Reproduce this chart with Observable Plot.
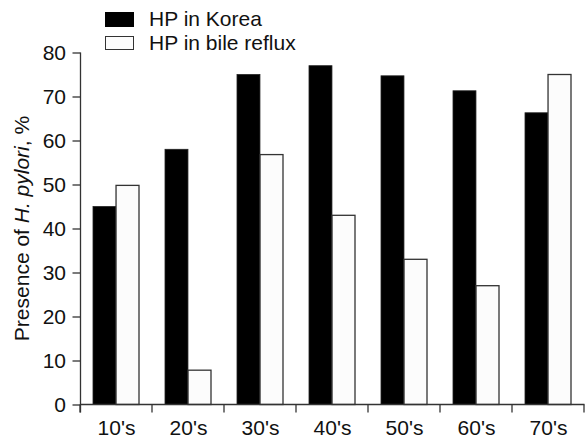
<!DOCTYPE html>
<html>
<head>
<meta charset="utf-8">
<script src="https://cdn.jsdelivr.net/npm/d3@7"></script>
<script src="https://cdn.jsdelivr.net/npm/@observablehq/plot@0.6"></script>
<style>
  html, body { margin: 0; padding: 0; background: #fff; }
  #wrap { position: relative; width: 586px; height: 439px; font-family: "Liberation Sans", Arial, Helvetica, sans-serif; color: #111; }
  .lg-box { position: absolute; box-sizing: border-box; }
  .lg-text { position: absolute; font-size: 21px; line-height: 24px; white-space: nowrap; }
</style>
</head>
<body>
<div id="wrap">
  <div class="lg-box" style="left:105px; top:12px; width:29px; height:15px; background:#000;"></div>
  <div class="lg-text" id="lg1" style="left:149px; top:7px;"></div>
  <div class="lg-box" style="left:105px; top:36px; width:29px; height:14px; background:#fcfcfc; border:1.3px solid #333;"></div>
  <div class="lg-text" id="lg2" style="left:149px; top:31px;"></div>
</div>
<script>
// ---- data ----
const ages = ["10's", "20's", "30's", "40's", "50's", "60's", "70's"];
const hpKorea = [45, 58, 75, 77, 74.7, 71.3, 66.3];
const hpBile = [49.8, 7.8, 56.8, 43, 33, 27, 75];
const yTicks = [0, 10, 20, 30, 40, 50, 60, 70, 80];
const seriesNames = ["HP in Korea", "HP in bile reflux"];
const yLabelParts = ["Presence of ", "H. pylori", ", %"];

document.getElementById("lg1").textContent = seriesNames[0];
document.getElementById("lg2").textContent = seriesNames[1];

const rows = ages.map((a, i) => ({age: a, korea: hpKorea[i], bile: hpBile[i]}));

const padInner = 0.36, padOuter = 0.18;
const W = 586, H = 439, mL = 80.5, mR = 1.5, mT = 52.5, mB = 34.5;
const step = (W - mL - mR) / (ages.length - padInner + 2 * padOuter);
const half = step * (1 - padInner) / 2;

const svg = Plot.plot({
  width: W, height: H,
  marginLeft: mL, marginRight: mR, marginTop: mT, marginBottom: mB,
  style: {fontFamily: '"Liberation Sans", Arial, Helvetica, sans-serif', fontSize: "21px", color: "#111", background: "transparent", overflow: "visible"},
  x: {type: "band", domain: ages, paddingInner: padInner, paddingOuter: padOuter, axis: null},
  y: {domain: [0, 80], axis: null},
  marks: [
    Plot.barY(rows, {x: "age", y: "korea", fill: "#000", stroke: "#222", strokeWidth: 0.8, insetRight: half}),
    Plot.barY(rows, {x: "age", y: "bile", fill: "#fcfcfc", stroke: "#333", strokeWidth: 1.3, insetLeft: half}),
    Plot.axisY({ticks: yTicks, tickSize: 8, tickPadding: 7, label: null, stroke: "#333", strokeWidth: 1.3, fill: "#111"}),
    Plot.axisX({tickSize: 0, tickPadding: 15, label: null, fill: "#111"})
  ]
});

// axis lines and band-boundary ticks from the scales
const xs = svg.scale("x"), ys = svg.scale("y");
const g = d3.select(svg).append("g").attr("stroke", "#333").attr("stroke-width", 1.3).attr("fill", "none");
const x0 = xs.range[0], x1 = xs.range[1];
const y0 = ys.apply(0), yTop = ys.apply(80);
g.append("line").attr("x1", x0).attr("x2", x0).attr("y1", yTop).attr("y2", y0 + 8);
g.append("line").attr("x1", x0).attr("x2", x1).attr("y1", y0).attr("y2", y0);
const bw = xs.bandwidth;
const st = xs.step || bw / (1 - padInner);
const bounds = ages.map(d => xs.apply(d) - (st - bw) / 2);
bounds.push(xs.apply(ages[ages.length - 1]) + bw + (st - bw) / 2);
bounds.forEach(b => g.append("line").attr("x1", b).attr("x2", b).attr("y1", y0).attr("y2", y0 + 8));

// y label with italic species name
const lab = d3.select(svg).append("text")
  .attr("transform", `translate(21,${(y0 + yTop) / 2}) rotate(-90)`)
  .attr("text-anchor", "middle").attr("dominant-baseline", "central")
  .attr("fill", "#111").attr("font-size", 21);
lab.append("tspan").text(yLabelParts[0]);
lab.append("tspan").attr("font-style", "italic").text(yLabelParts[1]);
lab.append("tspan").text(yLabelParts[2]);

svg.style.position = "absolute";
svg.style.left = "0px";
svg.style.top = "0px";
document.getElementById("wrap").appendChild(svg);
</script>
</body>
</html>
